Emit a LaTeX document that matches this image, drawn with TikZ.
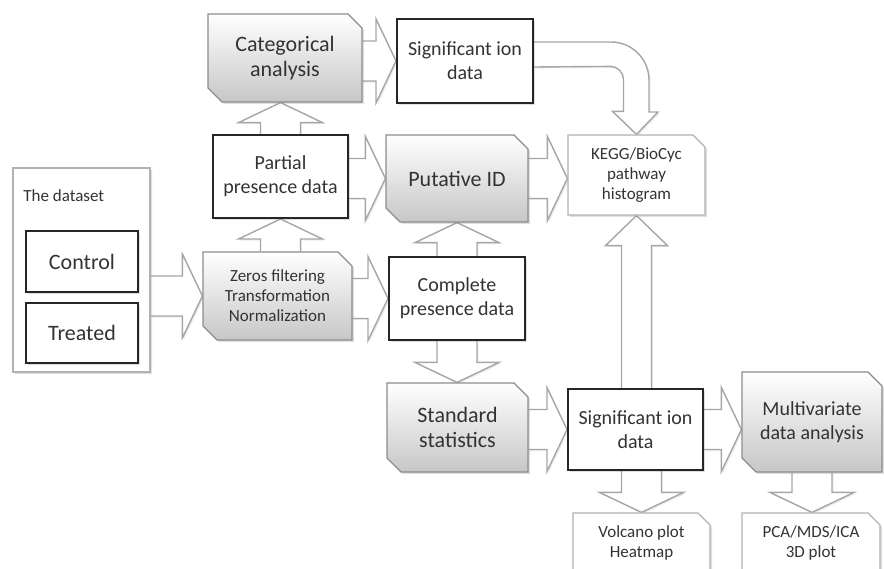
\documentclass[tikz,border=0pt]{standalone}
\usepackage{fontspec}
\setmainfont{Carlito}
\usetikzlibrary{shapes.misc,shadows,calc,backgrounds}

% sizes of the hollow arrows
\newcommand{\shaftw}{10pt}
\newcommand{\headw}{21pt}
\newcommand{\headl}{10pt}
\newcommand{\bigarrow}[2]{%
  \coordinate (arrtail) at (#1);
  \coordinate (arrtip) at (#2);
  \coordinate (arrbase) at ($(arrtip)!\headl!(arrtail)$);
  \filldraw[blockarrow] ($(arrtail)!\shaftw!90:(arrtip)$) -- ($(arrbase)!\shaftw!90:(arrtip)$)
    -- ($(arrbase)!\headw!90:(arrtip)$) -- (arrtip) -- ($(arrbase)!\headw!-90:(arrtip)$)
    -- ($(arrbase)!\shaftw!-90:(arrtip)$) -- ($(arrtail)!\shaftw!-90:(arrtip)$);
}

\tikzset{
  boxsize/.style 2 args={minimum width=#1*0.5pt, minimum height=#2*0.5pt},
  bigfont/.style={font=\fontsize{11}{12.5}\selectfont},
  midfont/.style={font=\fontsize{10}{12}\selectfont},
  smallfont/.style={font=\fontsize{8.5}{10}\selectfont},
  boxshadow/.style={drop shadow={opacity=.25, shadow xshift=1pt, shadow yshift=-1pt}},
  txt/.style={text=black!80, align=center, inner sep=0pt},
  blackbox/.style={txt, rectangle, draw=black!85, line width=1pt, fill=white, boxshadow},
  greybox/.style={txt, chamfered rectangle, chamfered rectangle corners={north east,south west},
    chamfered rectangle xsep=3.5pt, chamfered rectangle ysep=3.5pt,
    draw=black!45, line width=0.6pt, top color=white, bottom color=black!22, boxshadow},
  paperbox/.style={txt, chamfered rectangle, chamfered rectangle corners=north east,
    chamfered rectangle xsep=3pt, chamfered rectangle ysep=3pt,
    draw=black!30, line width=0.6pt, fill=white, boxshadow},
  blockarrow/.style={draw=black!35, line width=0.7pt, fill=white, line join=miter,
    drop shadow={opacity=.15, shadow xshift=0.8pt, shadow yshift=-0.8pt}}
}

\begin{document}
\begin{tikzpicture}[x=0.5pt, y=0.5pt]
  \useasboundingbox (0,0) rectangle (884,568);

  % the input
  \node[paperbox, boxsize={137}{204}, chamfered rectangle xsep=5.5pt, chamfered rectangle ysep=5.5pt] (dataset) at (81.5,298) {};
  \node[txt, smallfont, anchor=base west] (dstitle) at (23,366) {The dataset};
  \node[blackbox, bigfont, boxsize={112}{61}] (control) at (82,306.5) {Control};
  \node[blackbox, bigfont, boxsize={112}{60}] (treated) at (82,235) {Treated};

  % processing steps
  \node[greybox, smallfont, boxsize={149}{88}] (zeros) at (277.5,272) {Zeros filtering\\Transformation\\Normalization};
  \node[blackbox, midfont, boxsize={135}{83}] (partial) at (280.5,391.5) {Partial\\presence data};
  \node[greybox, bigfont, boxsize={154}{88}] (categ) at (285,510) {Categorical\\analysis};
  \node[blackbox, midfont, boxsize={136}{84}] (sigtop) at (465,507) {Significant ion\\data};
  \node[greybox, bigfont, boxsize={142}{87}] (putative) at (457,389.5) {Putative ID};
  \node[blackbox, midfont, boxsize={136}{83}] (complete) at (457,269.5) {Complete\\presence data};
  \node[paperbox, smallfont, boxsize={137}{80}] (kegg) at (636.5,393) {KEGG/BioCyc\\pathway\\histogram};
  \node[greybox, bigfont, boxsize={141}{89}] (standard) at (457.5,140.5) {Standard\\statistics};
  \node[blackbox, midfont, boxsize={135}{81}] (sigbot) at (635.5,138.5) {Significant ion\\data};
  \node[greybox, midfont, boxsize={140}{100}] (multi) at (812,146) {Multivariate\\data analysis};

  % outputs
  \node[paperbox, smallfont, boxsize={137}{59}] (volcano) at (641.5,25.5) {Volcano plot\\Heatmap};
  \node[paperbox, smallfont, boxsize={138}{59}] (pca) at (811,25.5) {PCA/MDS/ICA\\3D plot};

  \begin{pgfonlayer}{background}
    \bigarrow{dataset.east |- zeros.west}{zeros.west}
    \bigarrow{partial.south |- zeros.north}{partial.south}
    \bigarrow{partial.north}{partial.north |- categ.south}
    \bigarrow{categ.east |- sigtop.west}{sigtop.west}
    \bigarrow{partial.east |- putative.west}{putative.west}
    \bigarrow{zeros.east |- complete.west}{complete.west}
    \bigarrow{complete.north}{putative.south}
    \bigarrow{putative.east}{putative.east -| kegg.west}
    \bigarrow{complete.south}{complete.south |- standard.north}
    \bigarrow{standard.east |- sigbot.west}{sigbot.west}
    \bigarrow{sigbot.east}{sigbot.east -| multi.west}
    \bigarrow{volcano.north |- sigbot.south}{volcano.north}
    \bigarrow{multi.south}{multi.south |- pca.north}
    \begin{scope}
      \renewcommand{\shaftw}{7.5pt}
      \renewcommand{\headw}{15.5pt}
      \renewcommand{\headl}{15pt}
      \bigarrow{kegg.south |- sigbot.north}{kegg.south}
    \end{scope}
    % bent arrow into the pathway box
    \coordinate (bend1) at ($(sigtop.east)+(0,19)$);
    \coordinate (bend2) at ($(sigtop.east)+(0,-6)$);
    \filldraw[blockarrow] (bend1) -- ++(77,0) .. controls +(21,0) and +(0,21) .. ++(38,-38)
      -- ++(0,-32) -- ++(9,0) -- (kegg.north) -- ++(-24,23) -- ++(11,0) -- ++(0,32)
      .. controls +(0,7) and +(7,0) .. ++(-13,13) -- (bend2);
  \end{pgfonlayer}
\end{tikzpicture}
\end{document}
